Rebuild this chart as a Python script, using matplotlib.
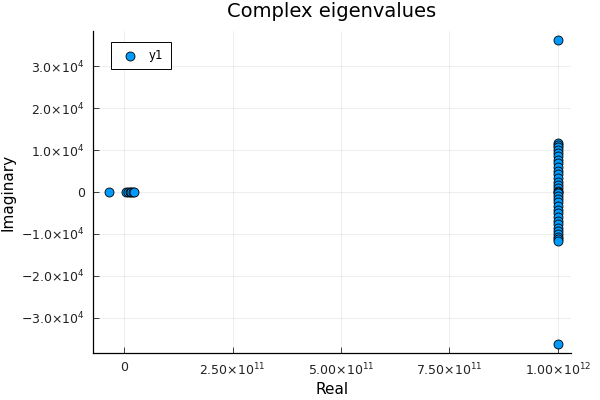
import matplotlib
matplotlib.use("Agg")
import matplotlib.pyplot as plt
from matplotlib.ticker import FixedLocator


# eigenvalues
real_left = [-3.5e10, 0.5e10, 0.9e10, 1.3e10, 1.7e10, 2.1e10, 2.4e10]
imag_left = [0.0, 0.0, 0.0, 0.0, 0.0, 0.0, 0.0]

imag_right = [36200, 11600, 11300, 10800, 10100, 9400, 8600, 7700, 6900, 6000,
              5100, 4200, 3400, 2500, 1700, 900, 300, 0, -300, -900, -1700,
              -2500, -3400, -4200, -5100, -6000, -6900, -7700, -8600, -9400,
              -10100, -10800, -11300, -11600, -36200]
real_right = [1e12] * len(imag_right)

xticks = [0, 2.5e11, 5e11, 7.5e11, 1e12]
xlabels = ["0", r"$2.50{\times}10^{11}$", r"$5.00{\times}10^{11}$",
           r"$7.50{\times}10^{11}$", r"$1.00{\times}10^{12}$"]
yticks = [-3e4, -2e4, -1e4, 0, 1e4, 2e4, 3e4]
ylabels = [r"$-3.0{\times}10^{4}$", r"$-2.0{\times}10^{4}$", r"$-1.0{\times}10^{4}$",
           "0", r"$1.0{\times}10^{4}$", r"$2.0{\times}10^{4}$", r"$3.0{\times}10^{4}$"]


def main():
    plt.rcParams["mathtext.default"] = "regular"
    fig = plt.figure(figsize=(6, 4), dpi=100)
    ax = fig.add_axes([93 / 600, 1 - 353 / 400, (571 - 93) / 600, (353 - 31) / 400])

    x = real_left + real_right
    y = imag_left + imag_right
    ax.scatter(x, y, s=42, color="#009afa", edgecolors="black", linewidths=0.6,
               zorder=3, label="y1")

    ax.set_xlim(-7.15e10, 1.03e12)
    ax.set_ylim(-3.84e4, 3.84e4)
    ax.xaxis.set_major_locator(FixedLocator(xticks))
    ax.set_xticklabels(xlabels)
    ax.yaxis.set_major_locator(FixedLocator(yticks))
    ax.set_yticklabels(ylabels)
    ax.tick_params(direction="in", length=4, width=0.6, labelsize=9,
                   colors="#222222", pad=6)
    for side in ["top", "right"]:
        ax.spines[side].set_visible(False)
    for side in ["left", "bottom"]:
        ax.spines[side].set_linewidth(0.9)
    ax.grid(True, color="black", alpha=0.08, linewidth=0.6)

    ax.set_title("Complex eigenvalues", fontsize=14, pad=10)
    ax.set_xlabel("Real", fontsize=11, labelpad=3)
    ax.set_ylabel("Imaginary", fontsize=11, labelpad=4)

    leg = ax.legend(loc="upper left", bbox_to_anchor=(0.038, 0.966), borderaxespad=0,
                    fancybox=False, edgecolor="black", fontsize=8.5, borderpad=0.6,
                    handletextpad=0.6, framealpha=1)
    leg.get_frame().set_linewidth(0.7)

    fig.savefig("out.png", dpi=100)


if __name__ == "__main__":
    main()
